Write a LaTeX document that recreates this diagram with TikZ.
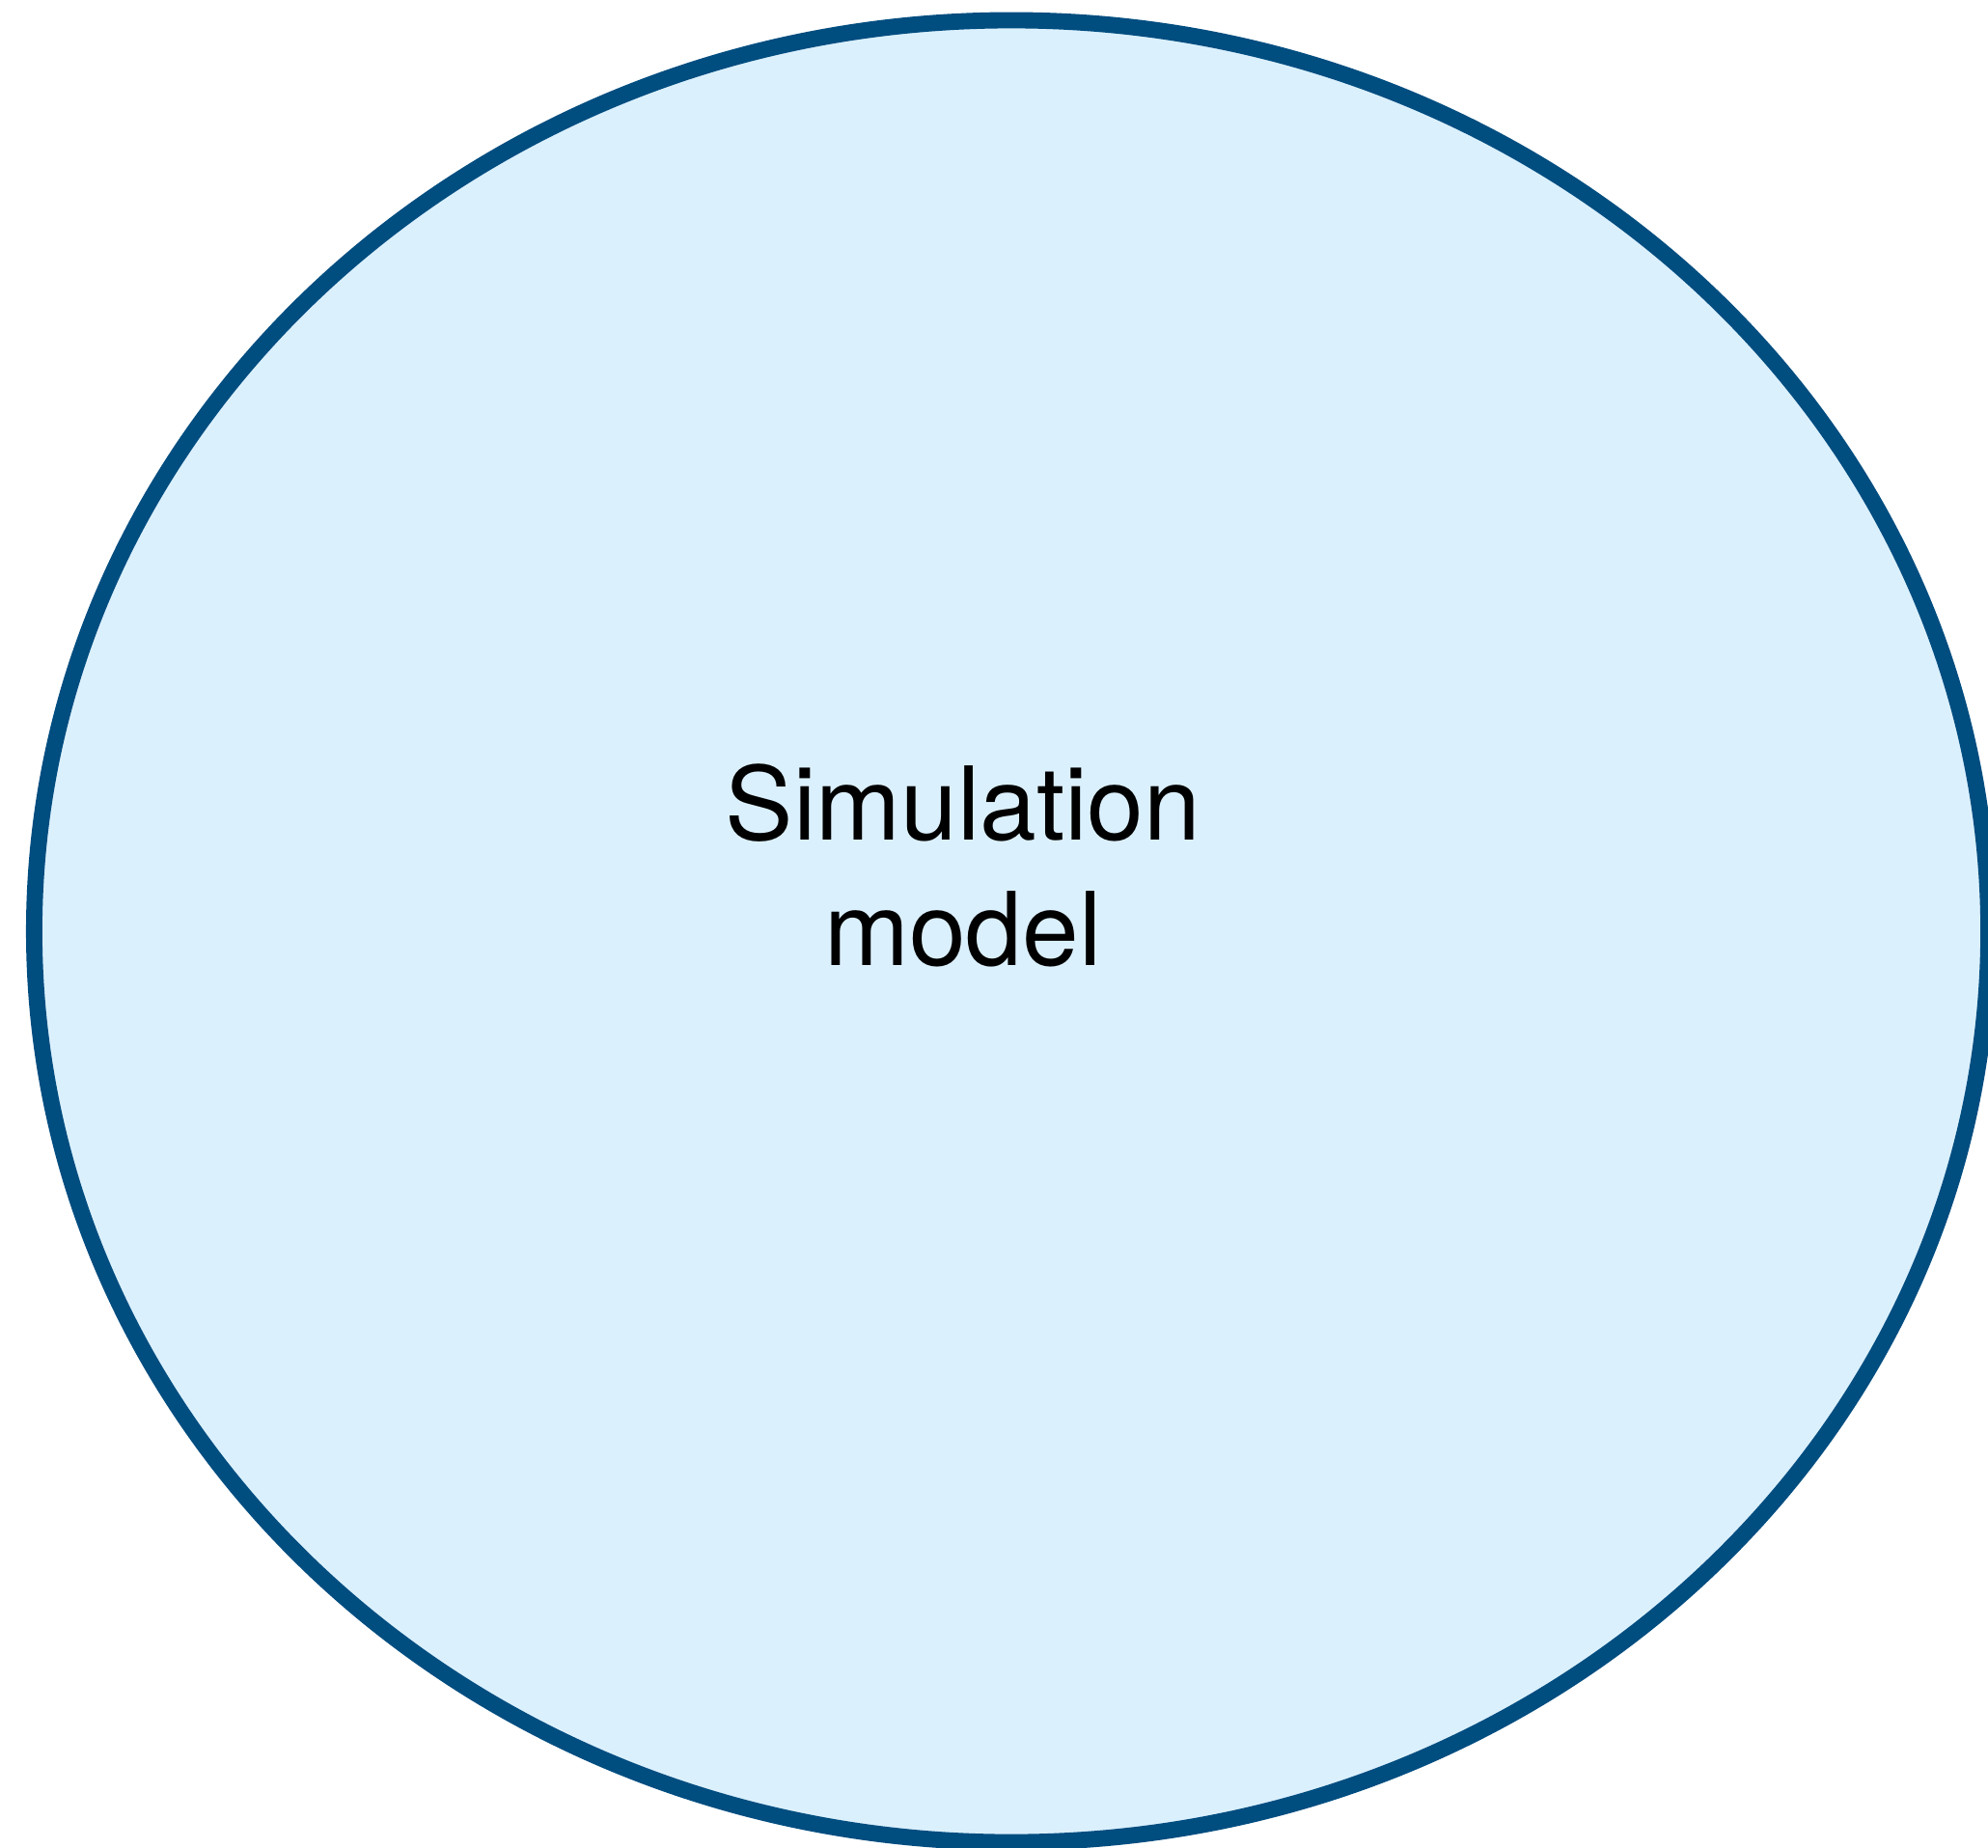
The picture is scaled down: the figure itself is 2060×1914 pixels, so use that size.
\documentclass[tikz,border=0pt]{standalone}
\usepackage{fontspec}
\setmainfont{TeX Gyre Heros}
\usetikzlibrary{shapes.geometric}
\definecolor{modelfill}{RGB}{219,240,253}
\definecolor{modelline}{RGB}{0,77,128}
\tikzset{x=0.01cm, y=-0.01cm,
modelbody/.style={ % Sets the look of the big ellipse
draw=modelline,
fill=modelfill,
line width=4.8pt},
modeltext/.style={ % Text inside the ellipse
align=center,
font=\fontsize{30}{37}\selectfont}}

\begin{document}
\begin{tikzpicture}
\useasboundingbox (0,0) rectangle (2060,1914);
\node[modelbody, ellipse, minimum width=20.24cm, minimum height=18.87cm, inner sep=0pt] (model) at (1048,965) {};
\node[modeltext] (label) at (998,897) {Simulation\\model};
\end{tikzpicture}
\end{document}
